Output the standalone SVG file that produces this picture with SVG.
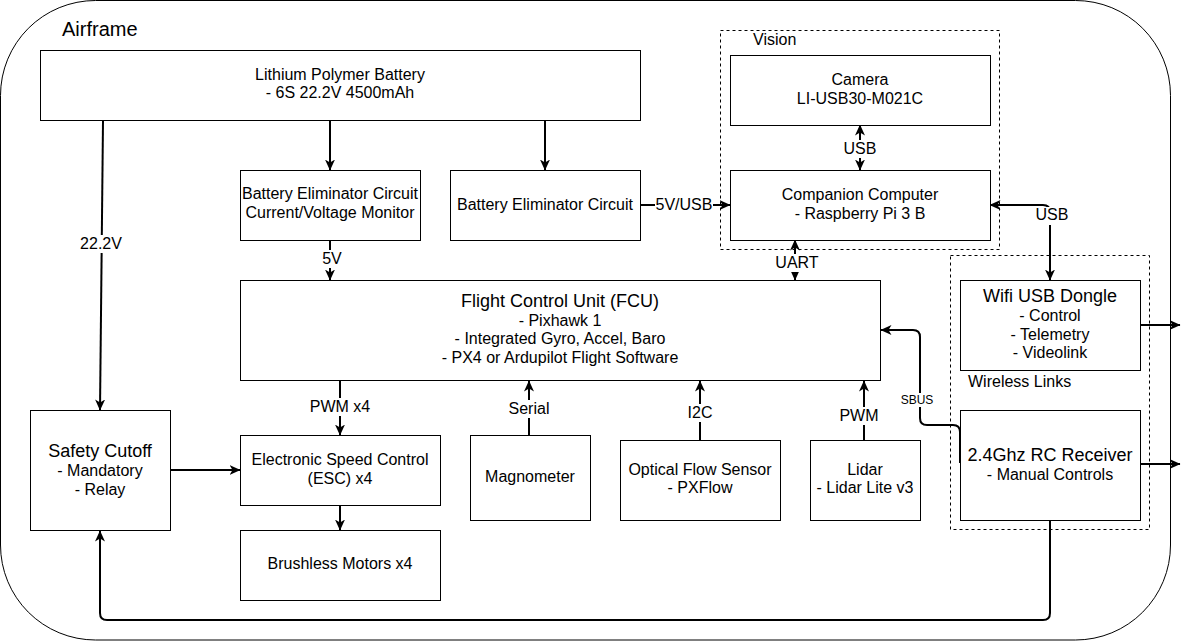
<svg xmlns="http://www.w3.org/2000/svg" width="1190" height="642" viewBox="0 0 1190 642">
<style>
  text { font-family: "Liberation Sans", Arial, Helvetica, sans-serif; font-size: 16px; fill: #000; }
  .c { text-anchor: middle; }
  .h { font-size: 18px; }
  .s { font-size: 12px; }
  .t { font-size: 20px; }
  .box { fill: #fff; stroke: #000; stroke-width: 1; }
  .grp { fill: none; stroke: #000; stroke-width: 1; stroke-dasharray: 3 3; }
  .edge { fill: none; stroke: #000; stroke-width: 2; }
  .lbg { fill: #fff; stroke: none; }
</style>
<defs>
  <marker id="arr" markerUnits="userSpaceOnUse" viewBox="0 0 11 10" markerWidth="11" markerHeight="10" refX="10.5" refY="5" orient="auto-start-reverse">
    <path d="M0,0 L11,5 L0,10 L3,5 Z" fill="#000"/>
  </marker>
</defs>
<rect x="0" y="0" width="1190" height="642" fill="#fff"/>

<g id="airframe">
  <rect x="0.5" y="0.5" width="1170" height="639.5" rx="95" ry="95" fill="none" stroke="#000" stroke-width="1"/>
  <text class="t" x="62" y="36">Airframe</text>
</g>

<g id="vision">
  <rect class="grp" x="720.5" y="30.5" width="279" height="219"/>
  <text x="753" y="45">Vision</text>
</g>

<g id="wireless">
  <rect class="grp" x="950.5" y="255.5" width="199" height="274"/>
  <text x="968" y="387">Wireless Links</text>
</g>

<g id="battery">
  <rect class="box" x="40.5" y="50.5" width="600" height="70"/>
  <text class="c" x="340" y="80">Lithium Polymer Battery</text>
  <text class="c" x="340" y="98">- 6S 22.2V 4500mAh</text>
</g>

<g id="bec-monitor">
  <rect class="box" x="240.5" y="170.5" width="180" height="70"/>
  <text class="c" x="330" y="199">Battery Eliminator Circuit</text>
  <text class="c" x="330" y="218">Current/Voltage Monitor</text>
</g>

<g id="bec">
  <rect class="box" x="450.5" y="170.5" width="190" height="70"/>
  <text class="c" x="545" y="210">Battery Eliminator Circuit</text>
</g>

<g id="camera">
  <rect class="box" x="730.5" y="55.5" width="260" height="70"/>
  <text class="c" x="860" y="85">Camera</text>
  <text class="c" x="860" y="104">LI-USB30-M021C</text>
</g>

<g id="companion">
  <rect class="box" x="730.5" y="170.5" width="260" height="70"/>
  <text class="c" x="860" y="200">Companion Computer</text>
  <text class="c" x="860" y="219">- Raspberry Pi 3 B</text>
</g>

<g id="wifi">
  <rect class="box" x="960.5" y="280.5" width="180" height="90"/>
  <text class="c h" x="1050" y="302">Wifi USB Dongle</text>
  <text class="c" x="1050" y="321">- Control</text>
  <text class="c" x="1050" y="340">- Telemetry</text>
  <text class="c" x="1050" y="358">- Videolink</text>
</g>

<g id="rc">
  <rect class="box" x="960.5" y="410.5" width="180" height="110"/>
  <text class="c h" x="1050" y="461">2.4Ghz RC Receiver</text>
  <text class="c" x="1050" y="480">- Manual Controls</text>
</g>

<g id="fcu">
  <rect class="box" x="240.5" y="280.5" width="640" height="100"/>
  <text class="c h" x="560" y="307">Flight Control Unit (FCU)</text>
  <text class="c" x="560" y="326">- Pixhawk 1</text>
  <text class="c" x="560" y="344">- Integrated Gyro, Accel, Baro</text>
  <text class="c" x="560" y="363">- PX4 or Ardupilot Flight Software</text>
</g>

<g id="safety">
  <rect class="box" x="30.5" y="410.5" width="140" height="120"/>
  <text class="c h" x="100" y="457">Safety Cutoff</text>
  <text class="c" x="100" y="476">- Mandatory</text>
  <text class="c" x="100" y="495">- Relay</text>
</g>

<g id="esc">
  <rect class="box" x="240.5" y="435.5" width="200" height="70"/>
  <text class="c" x="340" y="465">Electronic Speed Control</text>
  <text class="c" x="340" y="484">(ESC) x4</text>
</g>

<g id="motors">
  <rect class="box" x="240.5" y="530.5" width="200" height="70"/>
  <text class="c" x="340" y="569">Brushless Motors x4</text>
</g>

<g id="magnometer">
  <rect class="box" x="470.5" y="435.5" width="120" height="85"/>
  <text class="c" x="530" y="482">Magnometer</text>
</g>

<g id="optical">
  <rect class="box" x="620.5" y="440.5" width="160" height="80"/>
  <text class="c" x="700" y="475">Optical Flow Sensor</text>
  <text class="c" x="700" y="493">- PXFlow</text>
</g>

<g id="lidar">
  <rect class="box" x="810.5" y="440.5" width="110" height="80"/>
  <text class="c" x="865" y="475">Lidar</text>
  <text class="c" x="865" y="493">- Lidar Lite v3</text>
</g>

<g id="connectors">
  <path class="edge" d="M103,121 L100,410" marker-end="url(#arr)"/>
  <path class="edge" d="M330,121 L330,170" marker-end="url(#arr)"/>
  <path class="edge" d="M545,121 L545,170" marker-end="url(#arr)"/>
  <path class="edge" d="M330,241 L330,280" marker-end="url(#arr)"/>
  <path class="edge" d="M641,205 L730,205" marker-end="url(#arr)"/>
  <path class="edge" d="M860,170 L860,125" marker-start="url(#arr)" marker-end="url(#arr)"/>
  <path class="edge" d="M795,280 L795,240" marker-start="url(#arr)" marker-end="url(#arr)"/>
  <path class="edge" d="M990,205 L1043,205 Q1050,205 1050,212 L1050,280" marker-start="url(#arr)" marker-end="url(#arr)"/>
  <path class="edge" d="M1141,325 L1180,325" marker-end="url(#arr)"/>
  <path class="edge" d="M1141,464 L1180,464" marker-end="url(#arr)"/>
  <path class="edge" d="M960,463 L960,432 Q960,425 953,425 L927,425 Q920,425 920,418 L920,337 Q920,330 913,330 L881,330" marker-end="url(#arr)"/>
  <path class="edge" d="M340,381 L340,435" marker-end="url(#arr)"/>
  <path class="edge" d="M340,506 L340,530" marker-end="url(#arr)"/>
  <path class="edge" d="M171,470 L240,470" marker-end="url(#arr)"/>
  <path class="edge" d="M529,435 L529,381" marker-end="url(#arr)"/>
  <path class="edge" d="M700,440 L700,381" marker-end="url(#arr)"/>
  <path class="edge" d="M864,440 L864,381" marker-end="url(#arr)"/>
  <path class="edge" d="M1050,521 L1050,613 Q1050,620 1043,620 L107,620 Q100,620 100,613 L100,531" marker-end="url(#arr)"/>

  <rect class="lbg" x="79" y="235" width="44" height="18"/>
  <text class="c" x="101" y="249">22.2V</text>
  <rect class="lbg" x="321" y="250" width="22" height="18"/>
  <text class="c" x="332" y="264">5V</text>
  <rect class="lbg" x="655" y="196" width="58" height="18"/>
  <text class="c" x="684" y="210">5V/USB</text>
  <rect class="lbg" x="843" y="140" width="34" height="18"/>
  <text class="c" x="860" y="154">USB</text>
  <rect class="lbg" x="775" y="254" width="44" height="18"/>
  <text class="c" x="797" y="268">UART</text>
  <rect class="lbg" x="1035" y="207" width="34" height="18"/>
  <text class="c" x="1052" y="220">USB</text>
  <rect class="lbg" x="309" y="398" width="62" height="18"/>
  <text class="c" x="340" y="412">PWM x4</text>
  <rect class="lbg" x="508" y="400" width="42" height="18"/>
  <text class="c" x="529" y="414">Serial</text>
  <rect class="lbg" x="687" y="404" width="26" height="18"/>
  <text class="c" x="700" y="418">I2C</text>
  <rect class="lbg" x="840" y="407" width="40" height="18"/>
  <text class="c" x="859" y="421">PWM</text>
  <rect class="lbg" x="900" y="393" width="34" height="14"/>
  <text class="c s" x="917" y="404">SBUS</text>
</g>
</svg>
